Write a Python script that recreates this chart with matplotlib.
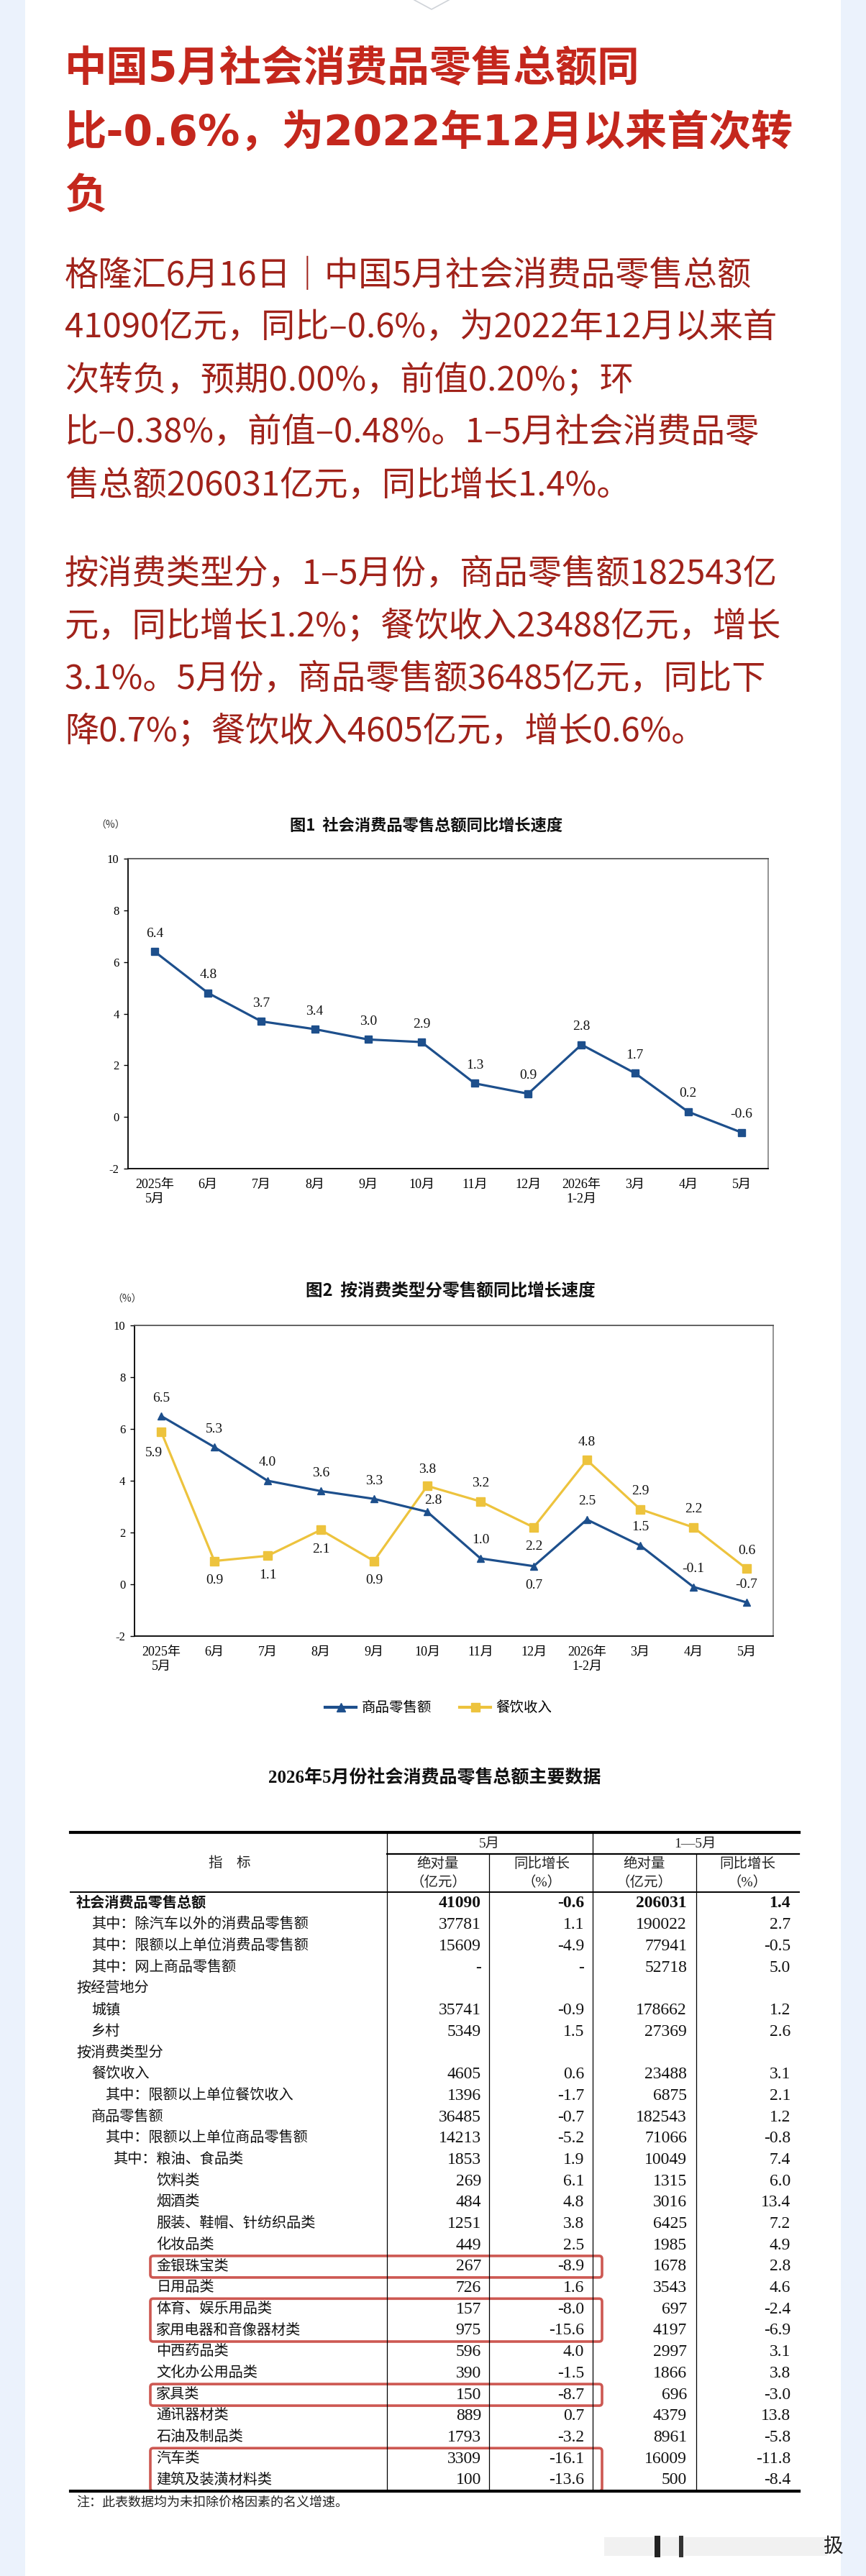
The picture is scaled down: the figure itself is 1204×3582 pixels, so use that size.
import matplotlib.pyplot as plt
from matplotlib.patches import Rectangle, FancyBboxPatch
from matplotlib.lines import Line2D

# ---- data ----
title_lines = [
    '中国5月社会消费品零售总额同',
    '比-0.6%，为2022年12月以来首次转',
    '负',
]
para1_lines = [
    '格隆汇6月16日｜中国5月社会消费品零售总额',
    '41090亿元，同比–0.6%，为2022年12月以来首',
    '次转负，预期0.00%，前值0.20%；环',
    '比–0.38%，前值–0.48%。1–5月社会消费品零',
    '售总额206031亿元，同比增长1.4%。',
]
para2_lines = [
    '按消费类型分，1–5月份，商品零售额182543亿',
    '元，同比增长1.2%；餐饮收入23488亿元，增长',
    '3.1%。5月份，商品零售额36485亿元，同比下',
    '降0.7%；餐饮收入4605亿元，增长0.6%。',
]

months = ['2025年\n5月', '6月', '7月', '8月', '9月', '10月', '11月', '12月',
          '2026年\n1-2月', '3月', '4月', '5月']
total_growth = [6.4, 4.8, 3.7, 3.4, 3.0, 2.9, 1.3, 0.9, 2.8, 1.7, 0.2, -0.6]
goods_growth = [6.5, 5.3, 4.0, 3.6, 3.3, 2.8, 1.0, 0.7, 2.5, 1.5, -0.1, -0.7]
catering_growth = [5.9, 0.9, 1.1, 2.1, 0.9, 3.8, 3.2, 2.2, 4.8, 2.9, 2.2, 0.6]

table_title = '2026年5月份社会消费品零售总额主要数据'
row_names = [
    '社会消费品零售总额', '其中：除汽车以外的消费品零售额', '其中：限额以上单位消费品零售额',
    '其中：网上商品零售额', '按经营地分', '城镇', '乡村', '按消费类型分', '餐饮收入',
    '其中：限额以上单位餐饮收入', '商品零售额', '其中：限额以上单位商品零售额',
    '其中：粮油、食品类', '饮料类', '烟酒类', '服装、鞋帽、针纺织品类', '化妆品类',
    '金银珠宝类', '日用品类', '体育、娱乐用品类', '家用电器和音像器材类', '中西药品类',
    '文化办公用品类', '家具类', '通讯器材类', '石油及制品类', '汽车类', '建筑及装潢材料类',
]
row_level = [0, 1, 1, 1, 0, 1, 1, 0, 1, 2, 1, 2, 3, 4, 4, 4, 4, 4, 4, 4, 4, 4, 4, 4, 4, 4, 4, 4]
may_abs = ['41090', '37781', '15609', '-', '', '35741', '5349', '', '4605', '1396', '36485',
           '14213', '1853', '269', '484', '1251', '449', '267', '726', '157', '975', '596',
           '390', '150', '889', '1793', '3309', '100']
may_yoy = ['-0.6', '1.1', '-4.9', '-', '', '-0.9', '1.5', '', '0.6', '-1.7', '-0.7', '-5.2',
           '1.9', '6.1', '4.8', '3.8', '2.5', '-8.9', '1.6', '-8.0', '-15.6', '4.0', '-1.5',
           '-8.7', '0.7', '-3.2', '-16.1', '-13.6']
ytd_abs = ['206031', '190022', '77941', '52718', '', '178662', '27369', '', '23488', '6875',
           '182543', '71066', '10049', '1315', '3016', '6425', '1985', '1678', '3543', '697',
           '4197', '2997', '1866', '696', '4379', '8961', '16009', '500']
ytd_yoy = ['1.4', '2.7', '-0.5', '5.0', '', '1.2', '2.6', '', '3.1', '2.1', '1.2', '-0.8',
           '7.4', '6.0', '13.4', '7.2', '4.9', '2.8', '4.6', '-2.4', '-6.9', '3.1', '3.8',
           '-3.0', '13.8', '-5.8', '-11.8', '-8.4']
highlight_groups = [(17, 17), (19, 20), (23, 23), (26, 27)]
table_note = '注：此表数据均为未扣除价格因素的名义增速。'

# ---- style ----
W, H = 1204, 3582
CJK = ['Noto Sans CJK SC', 'DejaVu Sans']
HEAD = ['DejaVu Sans', 'Noto Sans CJK SC']
SERIF = ['Liberation Serif', 'Noto Sans CJK SC']
BLUE = '#1d4f8c'
YELLOW = '#edc33d'
plt.rcParams['axes.unicode_minus'] = False

fig = plt.figure(figsize=(W / 100, H / 100), dpi=100)
fig.patch.set_facecolor('#ebf2fc')

bg = fig.add_axes([0, 0, 1, 1])
bg.set_xlim(0, W)
bg.set_ylim(H, 0)
bg.axis('off')
bg.add_patch(Rectangle((35, 0), 1134, H, facecolor='white', edgecolor='none'))
bg.plot([576, 600, 624], [0, 13, 0], color='#cfd3d8', lw=1.2)

# headline + paragraphs
for i, s in enumerate(title_lines):
    bg.text(90, 97 + i * 88, s, family=HEAD, weight='bold', fontsize=42,
            color='#c4271d', va='center', ha='left')
for i, s in enumerate(para1_lines):
    bg.text(90, 384 + i * 73, s, family=CJK, fontsize=34, color='#a0221a',
            va='center', ha='left')
for i, s in enumerate(para2_lines):
    bg.text(90, 799 + i * 73, s, family=CJK, fontsize=34, color='#a0221a',
            va='center', ha='left')


def px_axes(left, top, right, bottom):
    return fig.add_axes([left / W, 1 - bottom / H, (right - left) / W, (bottom - top) / H])


def style_chart(ax):
    ax.set_xlim(-0.5, 11.5)
    ax.set_ylim(-2, 10)
    ax.set_yticks(range(-2, 11, 2))
    ax.set_xticks(range(len(months)))
    ax.set_xticklabels(months, family=SERIF, fontsize=13, linespacing=1.25)
    for lab in ax.get_yticklabels():
        lab.set_family(SERIF)
        lab.set_fontsize(12)
    ax.tick_params(axis='x', length=0, pad=10)
    ax.tick_params(axis='y', length=4, width=1, direction='out', pad=5)
    ax.spines['left'].set_color('black')
    ax.spines['bottom'].set_color('black')
    ax.spines['top'].set_color('#555555')
    ax.spines['right'].set_color('#8a8a8a')
    for sp in ax.spines.values():
        sp.set_linewidth(1.3)
    ax.set_facecolor('white')


def label_points(ax, values, places):
    for i, v in enumerate(values):
        dx, dy = places[i]
        ax.annotate(f'{v:.1f}', (i, v), xytext=(dx * 0.72, dy * 0.72),
                    textcoords='offset points', ha='center', va='center',
                    family=SERIF, fontsize=14, color='#111111')


# chart 1
bg.text(593, 1148, '图1  社会消费品零售总额同比增长速度', family=CJK, weight='bold',
        fontsize=16, ha='center', va='center', color='#111111')
bg.text(154, 1148, '（%）', family=CJK, fontsize=10, ha='center', va='center', color='#333333')
ax1 = px_axes(178, 1194, 1068, 1625)
ax1.plot(range(len(months)), total_growth, color=BLUE, lw=2.3, marker='s', markersize=7)
style_chart(ax1)
label_points(ax1, total_growth, [(0, 25)] * len(months))

# chart 2
bg.text(626, 1795, '图2  按消费类型分零售额同比增长速度', family=CJK, weight='bold',
        fontsize=17, ha='center', va='center', color='#111111')
bg.text(177, 1807, '（%）', family=CJK, fontsize=10, ha='center', va='center', color='#333333')
ax2 = px_axes(187, 1843, 1075, 2275)
ax2.plot(range(len(months)), catering_growth, color=YELLOW, lw=2.3, marker='s', markersize=8,
         zorder=2)
ax2.plot(range(len(months)), goods_growth, color=BLUE, lw=2.3, marker='^', markersize=7,
         zorder=3)
style_chart(ax2)
up, down = (0, 25), (0, -27)
goods_places = [up, up, up, up, up, (8, 16), up, down, up, up, up, up]
catering_places = [(-10, -30), down, down, down, down, (0, 23), up, down, up, up, up, up]
label_points(ax2, goods_growth, goods_places)
label_points(ax2, catering_growth, catering_places)
handles = [Line2D([], [], color=BLUE, lw=3, marker='^', markersize=8),
           Line2D([], [], color=YELLOW, lw=3, marker='s', markersize=8)]
fig.legend(handles, ['商品零售额', '餐饮收入'], loc='center', ncol=2, frameon=False,
           bbox_to_anchor=(610 / W, 1 - 2375 / H), prop={'family': CJK, 'size': 14},
           handlelength=2.2, columnspacing=2.0, handletextpad=0.4)

# ---- table ----
bg.text(604, 2472, table_title, family=SERIF, weight='bold', fontsize=18,
        ha='center', va='center', color='#111111')
tx0, tx1 = 98, 1111
top, split, head_bot, bot = 2548, 2578, 2631, 3464
c1, c2, c3, c4 = 538, 680, 824, 968
bg.plot([tx0, tx1], [top, top], color='black', lw=3)
bg.plot([tx0, tx1], [bot, bot], color='black', lw=3)
bg.plot([c1, tx1], [split, split], color='black', lw=1.6)
bg.plot([tx0, tx1], [head_bot, head_bot], color='black', lw=1.4)
for x in (c1, c3):
    bg.plot([x, x], [top, bot], color='black', lw=0.9)
for x in (c2, c4):
    bg.plot([x, x], [split, bot], color='black', lw=0.9)

hdr = dict(family=SERIF, fontsize=14, ha='center', va='center', color='#222222')
bg.text(319, 2591, '指　标', **hdr)
bg.text(680, 2564, '5月', **hdr)
bg.text(966, 2564, '1—5月', **hdr)
for cx in (609, 896):
    bg.text(cx, 2592, '绝对量', **hdr)
    bg.text(cx, 2618, '（亿元）', **hdr)
for cx in (753, 1039):
    bg.text(cx, 2592, '同比增长', **hdr)
    bg.text(cx, 2618, '（%）', **hdr)

indent = [106, 127, 146, 157, 217]
row_y = [2647 + i * 29.7 for i in range(len(row_names))]
num_right = [669, 812, 955, 1099]
for i, name in enumerate(row_names):
    wt = 'bold' if i == 0 else 'normal'
    bg.text(indent[row_level[i]], row_y[i], name, family=SERIF, fontsize=14.5, weight=wt,
            ha='left', va='center', color='#111111')
    for xr, col in zip(num_right, (may_abs, may_yoy, ytd_abs, ytd_yoy)):
        bg.text(xr, row_y[i], col[i], family=SERIF, fontsize=17, weight=wt,
                ha='right', va='center', color='#111111')

for first, last in highlight_groups:
    y0 = row_y[first] - 15
    y1 = row_y[last] + 15
    bg.add_patch(FancyBboxPatch((209, y0), 628, y1 - y0, boxstyle='round,pad=0,rounding_size=4',
                                facecolor='none', edgecolor='#c8463f', lw=2.6, alpha=0.9))

bg.text(106, 3481, table_note, family=CJK, fontsize=13, ha='left', va='center', color='#222222')

# bottom-right ui fragment
bg.add_patch(Rectangle((840, 3528), 310, 26, facecolor='#f1f1f1', edgecolor='none'))
bg.add_patch(Rectangle((910, 3526), 8, 30, facecolor='#222222', edgecolor='none'))
bg.add_patch(Rectangle((944, 3526), 6, 30, facecolor='#333333', edgecolor='none'))
bg.text(1158, 3541, '扱', family=CJK, fontsize=20, ha='center', va='center', color='#222222')

fig.savefig('out.png', dpi=100)
